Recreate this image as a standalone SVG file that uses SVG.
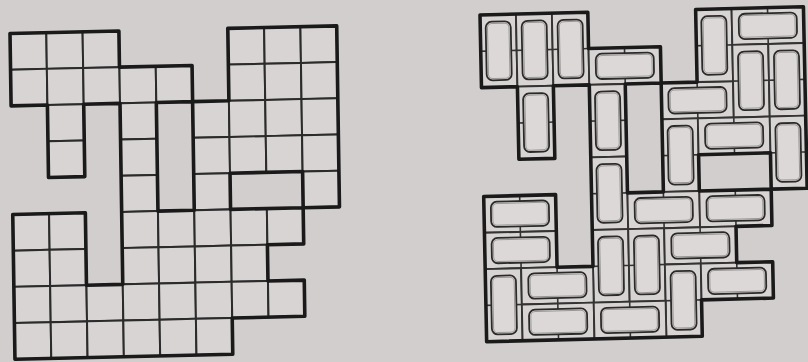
<svg xmlns="http://www.w3.org/2000/svg" width="808" height="362" viewBox="0 0 808 362">
<style>
.bg{fill:#d2cecd}
.cell{fill:#d8d4d3;stroke:#2b2b2b;stroke-width:2}
.bd{fill:none;stroke:#1a1a1a;stroke-width:3.6;stroke-linejoin:round}
.dom{fill:#d8d4d3;stroke:#333;stroke-width:1.9}
.in{fill:#dcd8d7;stroke:#2a2a2a;stroke-width:1.8}
.hi{fill:none;stroke:#9a9695;stroke-width:1}
.tk{stroke:#333;stroke-width:1.6}
</style>
<defs>
<rect id="cl" class="cell" width="36.3" height="36.3"/>
<g id="dv">
<rect class="dom" width="36.3" height="72.6"/>
<line class="tk" x1="0" y1="36.3" x2="5.5" y2="36.3"/>
<line class="tk" x1="30.8" y1="36.3" x2="36.3" y2="36.3"/>
<rect class="in" x="5.5" y="7" width="25.3" height="58.6" rx="6"/>
<rect class="hi" x="7.3" y="8.8" width="21.7" height="55" rx="4.5"/>
</g>
<g id="dh">
<rect class="dom" width="72.6" height="36.3"/>
<line class="tk" x1="36.3" y1="0" x2="36.3" y2="5.5"/>
<line class="tk" x1="36.3" y1="30.8" x2="36.3" y2="36.3"/>
<rect class="in" x="7" y="5.5" width="58.6" height="25.3" rx="6"/>
<rect class="hi" x="8.8" y="7.3" width="55" height="21.7" rx="4.5"/>
</g>
<path id="outline" d="M0 0H108.9V36.3H181.5V72.6H217.8V0H326.7V181.5H290.4V217.8H254.1V254.1H290.4V290.4H217.8V326.7H0V181.5H72.6V254.1H108.9V72.6H72.6V145.2H36.3V72.6H0Z M145.2 72.6h36.3v108.9h-36.3Z M217.8 145.2h72.6v36.3h-72.6Z"/>
</defs>
<rect class="bg" width="808" height="362"/>
<g id="grid-left" transform="matrix(1 -0.0234 0.0152 0.9972 10 33.5)">
<g id="cells-left">
<use href="#cl" x="0" y="0"/><use href="#cl" x="36.3" y="0"/><use href="#cl" x="72.6" y="0"/><use href="#cl" x="217.8" y="0"/><use href="#cl" x="254.1" y="0"/><use href="#cl" x="290.4" y="0"/>
<use href="#cl" x="0" y="36.3"/><use href="#cl" x="36.3" y="36.3"/><use href="#cl" x="72.6" y="36.3"/><use href="#cl" x="108.9" y="36.3"/><use href="#cl" x="145.2" y="36.3"/><use href="#cl" x="217.8" y="36.3"/><use href="#cl" x="254.1" y="36.3"/><use href="#cl" x="290.4" y="36.3"/>
<use href="#cl" x="36.3" y="72.6"/><use href="#cl" x="108.9" y="72.6"/><use href="#cl" x="181.5" y="72.6"/><use href="#cl" x="217.8" y="72.6"/><use href="#cl" x="254.1" y="72.6"/><use href="#cl" x="290.4" y="72.6"/>
<use href="#cl" x="36.3" y="108.9"/><use href="#cl" x="108.9" y="108.9"/><use href="#cl" x="181.5" y="108.9"/><use href="#cl" x="217.8" y="108.9"/><use href="#cl" x="254.1" y="108.9"/><use href="#cl" x="290.4" y="108.9"/>
<use href="#cl" x="108.9" y="145.2"/><use href="#cl" x="181.5" y="145.2"/><use href="#cl" x="290.4" y="145.2"/>
<use href="#cl" x="0" y="181.5"/><use href="#cl" x="36.3" y="181.5"/><use href="#cl" x="108.9" y="181.5"/><use href="#cl" x="145.2" y="181.5"/><use href="#cl" x="181.5" y="181.5"/><use href="#cl" x="217.8" y="181.5"/><use href="#cl" x="254.1" y="181.5"/>
<use href="#cl" x="0" y="217.8"/><use href="#cl" x="36.3" y="217.8"/><use href="#cl" x="108.9" y="217.8"/><use href="#cl" x="145.2" y="217.8"/><use href="#cl" x="181.5" y="217.8"/><use href="#cl" x="217.8" y="217.8"/>
<use href="#cl" x="0" y="254.1"/><use href="#cl" x="36.3" y="254.1"/><use href="#cl" x="72.6" y="254.1"/><use href="#cl" x="108.9" y="254.1"/><use href="#cl" x="145.2" y="254.1"/><use href="#cl" x="181.5" y="254.1"/><use href="#cl" x="217.8" y="254.1"/><use href="#cl" x="254.1" y="254.1"/>
<use href="#cl" x="0" y="290.4"/><use href="#cl" x="36.3" y="290.4"/><use href="#cl" x="72.6" y="290.4"/><use href="#cl" x="108.9" y="290.4"/><use href="#cl" x="145.2" y="290.4"/><use href="#cl" x="181.5" y="290.4"/>
</g>
<use id="border-left" href="#outline" class="bd"/>
</g>
<g id="tiling-right" transform="matrix(0.99 -0.0253 0.0204 1 480 15)">
<g id="dominoes">
<use href="#dv" x="0" y="0"/><use href="#dv" x="36.3" y="0"/><use href="#dv" x="72.6" y="0"/>
<use href="#dv" x="36.3" y="72.6"/>
<use href="#dh" x="108.9" y="36.3"/>
<use href="#dv" x="108.9" y="72.6"/>
<use href="#dv" x="108.9" y="145.2"/>
<use href="#dh" x="181.5" y="72.6"/>
<use href="#dv" x="217.8" y="0"/>
<use href="#dh" x="254.1" y="0"/>
<use href="#dv" x="254.1" y="36.3"/>
<use href="#dv" x="290.4" y="36.3"/>
<use href="#dv" x="181.5" y="108.9"/>
<use href="#dh" x="217.8" y="108.9"/>
<use href="#dv" x="290.4" y="108.9"/>
<use href="#dh" x="145.2" y="181.5"/>
<use href="#dh" x="217.8" y="181.5"/>
<use href="#dh" x="0" y="181.5"/>
<use href="#dh" x="0" y="217.8"/>
<use href="#dv" x="108.9" y="217.8"/>
<use href="#dv" x="145.2" y="217.8"/>
<use href="#dh" x="181.5" y="217.8"/>
<use href="#dv" x="0" y="254.1"/>
<use href="#dh" x="36.3" y="254.1"/>
<use href="#dv" x="181.5" y="254.1"/>
<use href="#dh" x="217.8" y="254.1"/>
<use href="#dh" x="36.3" y="290.4"/>
<use href="#dh" x="108.9" y="290.4"/>
</g>
<use id="border-right" href="#outline" class="bd"/>
</g>
</svg>
